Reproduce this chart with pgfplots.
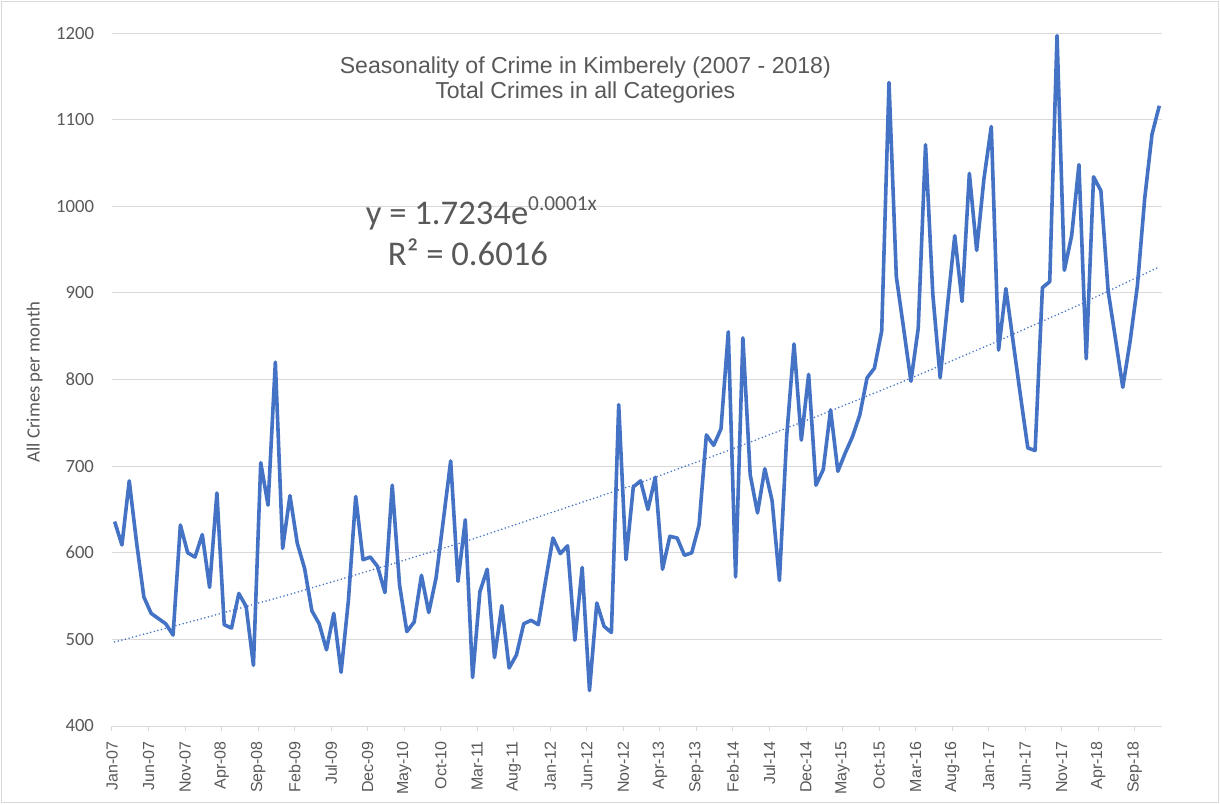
\documentclass[border=0pt]{standalone}
\usepackage{fontspec}
\setmainfont{Liberation Sans}
\newfontfamily\calib{Carlito}
\usepackage{pgfplots}
\pgfplotsset{compat=1.18}
\definecolor{linecol}{HTML}{4472C4}
\definecolor{txt}{HTML}{595959}
\definecolor{gridc}{HTML}{D9D9D9}
\begin{document}
\begin{tikzpicture}[x=1pt,y=1pt]
\useasboundingbox (0,0) rectangle (915,603);
\fill[white] (0,0) rectangle (915,603);
\draw[gridc, line width=0.75pt] (1,1) rectangle (914,602);
\begin{axis}[
  at={(84pt,58.5pt)}, anchor=south west,
  scale only axis, width=787.5pt, height=519.75pt,
  xmin=-0.36, xmax=143.37, ymin=400, ymax=1200,
  ytick={400,500,...,1200},
  xtick={-0.36,4.64,9.64,14.64,19.64,24.64,29.64,34.64,39.64,44.64,49.64,54.64,59.64,64.64,69.64,74.64,79.64,84.64,89.64,94.64,99.64,104.64,109.64,114.64,119.64,124.64,129.64,134.64,139.64},
  xticklabels={Jan-07,Jun-07,Nov-07,Apr-08,Sep-08,Feb-09,Jul-09,Dec-09,May-10,Oct-10,Mar-11,Aug-11,Jan-12,Jun-12,Nov-12,Apr-13,Sep-13,Feb-14,Jul-14,Dec-14,May-15,Oct-15,Mar-16,Aug-16,Jan-17,Jun-17,Nov-17,Apr-18,Sep-18},
  /pgf/number format/assume math mode=true,
  /pgf/number format/1000 sep={},
  x tick label style={rotate=90, anchor=east, font=\fontsize{12}{14}\selectfont, text=txt},
  y tick label style={font=\calib\fontsize{14}{16}\selectfont, text=txt},
  axis line style={draw=none},
  ymajorgrids, grid style={gridc, line width=0.75pt},
  tick align=outside, xtick pos=bottom, ytick pos=left,
  major tick length=4pt,
  xtick style={draw=gridc, line width=0.75pt},
  ytick style={draw=none},
  xticklabel shift=4pt,
  yticklabel shift=6pt,
]
\addplot[linecol, line width=2.7pt, line join=round, mark=none] coordinates {
(0,636) (1,609) (2,683) (3,612) (4,549) (5,530) (6,524) (7,518) (8,505) (9,632)
(10,600) (11,595) (12,621) (13,560) (14,669) (15,517) (16,513) (17,553) (18,538) (19,470)
(20,704) (21,655) (22,820) (23,605) (24,666) (25,611) (26,582) (27,533) (28,518) (29,488)
(30,530) (31,462) (32,545) (33,665) (34,592) (35,595) (36,584) (37,554) (38,678) (39,563)
(40,509) (41,520) (42,574) (43,531) (44,571) (45,638) (46,706) (47,567) (48,638) (49,456)
(50,555) (51,581) (52,479) (53,539) (54,467) (55,482) (56,518) (57,522) (58,517) (59,568)
(60,617) (61,599) (62,608) (63,499) (64,583) (65,441) (66,542) (67,515) (68,508) (69,771)
(70,592) (71,676) (72,683) (73,650) (74,687) (75,581) (76,619) (77,617) (78,597) (79,600)
(80,632) (81,736) (82,724) (83,743) (84,855) (85,572) (86,848) (87,690) (88,646) (89,697)
(90,660) (91,568) (92,735) (93,841) (94,730) (95,806) (96,678) (97,696) (98,765) (99,694)
(100,715) (101,734) (102,759) (103,802) (104,813) (105,856) (106,1143) (107,919) (108,859) (109,798)
(110,859) (111,1071) (112,898) (113,802) (114,885) (115,966) (116,890) (117,1038) (118,949) (119,1032)
(120,1092) (121,834) (122,905) (123,843) (124,781) (125,721) (126,718) (127,906) (128,913) (129,1197)
(130,926) (131,966) (132,1048) (133,824) (134,1034) (135,1018) (136,902) (137,847) (138,791) (139,844)
(140,908) (141,1009) (142,1083) (143,1116)
};
\addplot[linecol, line width=1.3pt, line cap=round, dash pattern=on 0pt off 2.8pt, mark=none] coordinates {
(0,497) (12,524) (24,552) (36,582) (48,613) (60,647) (72,681) (84,718) (96,757) (108,798) (120,841) (132,886) (143,930)
};
\end{axis}
\node[text=txt, font=\fontsize{17.3}{19}\selectfont, align=center] at (439,543) {Seasonality of Crime in Kimberely (2007 - 2018)\\Total Crimes in all Categories};
\node[text=txt, font=\calib\fontsize{26}{30}\selectfont] at (361,443) {y = 1.7234e\raisebox{0.8ex}{\fontsize{16}{18}\selectfont 0.0001x}};
\node[text=txt, font=\calib\fontsize{26}{30}\selectfont] at (351,414) {R² = 0.6016};
\node[rotate=90, text=txt, font=\calib\fontsize{14}{16}\selectfont] at (26,316.5) {All Crimes per month};
\end{tikzpicture}
\end{document}
